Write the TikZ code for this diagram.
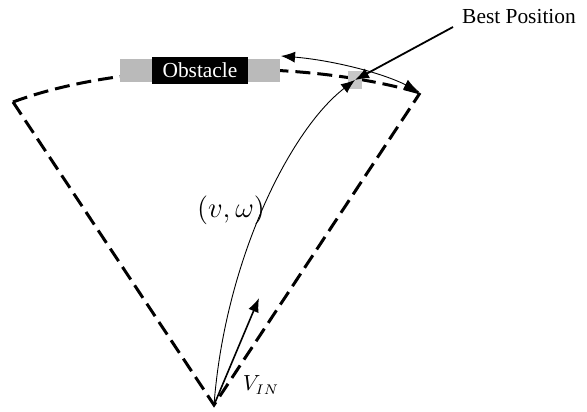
\documentclass[tikz,border=0pt]{standalone}
\usepackage{fontspec}
\setmainfont{Liberation Serif}
\usetikzlibrary{arrows.meta,positioning}

\begin{document}
\begin{tikzpicture}[x=0.5pt,y=-0.5pt,>={Latex[length=7pt,width=5.5pt]},
  bound/.style={line width=1.5pt,dash pattern=on 7.5pt off 3.5pt},
  lbl/.style={inner sep=0pt,font=\fontsize{10.7}{12}\selectfont}]
\useasboundingbox (0,0) rectangle (587,411);
\coordinate (apex) at (214,405);
\coordinate (lc) at (13,102);
\coordinate (rc) at (420,93);
\coordinate (best) at (355,80);
\draw[bound] (lc) -- (apex) -- (rc);
\draw[bound] (lc) .. controls (120,62) and (300,58) .. (rc);
\node[fill=black!27,minimum width=80pt,minimum height=11.5pt,inner sep=0pt] (obst) at (200,70.5) {};
\node[lbl,fill=black,text=white,minimum width=48pt,minimum height=13.5pt] (obstxt) at (obst) {Obstacle};
\node[fill=black!22,minimum width=7pt,minimum height=9pt,inner sep=0pt] (bestbox) at (best) {};
% velocity and search arc
\draw[->,line width=0.45pt] (apex) .. controls (225,260) and (290,130) .. (best);
\coordinate (vtip) at (259,298);
\draw[->,line width=0.8pt] (apex) -- (vtip);
\coordinate (dl) at (281,56);
\coordinate (dr) at (418,91);
\draw[<->,line width=0.45pt] (dl) .. controls (330,60) and (380,72) .. (dr);
% labels
\node[lbl] (bplabel) at (519,17) {Best Position};
\coordinate (bpstart) at (453,27);
\draw[->,line width=0.9pt] (bpstart) -- (best);
\node[inner sep=0pt,font=\fontsize{14}{16}\selectfont] (vw) at (231,210) {$(v,\omega)$};
\node[inner sep=0pt,font=\fontsize{10.5}{12}\selectfont] (vin) at (261,385) {$V_{IN}$};
\end{tikzpicture}
\end{document}
